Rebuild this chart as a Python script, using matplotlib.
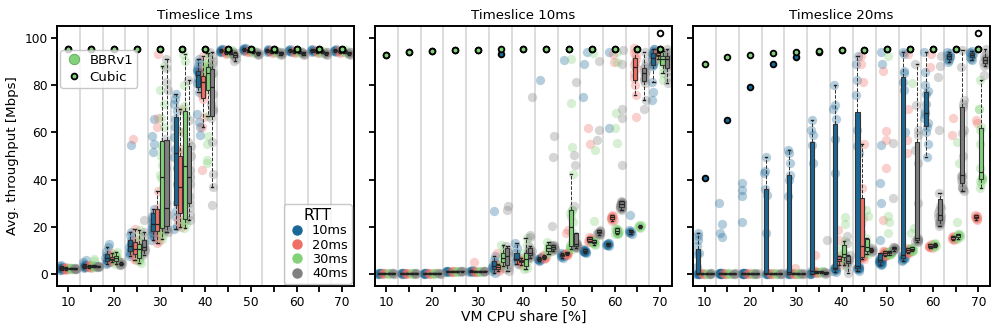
import numpy as np
import matplotlib
matplotlib.use("Agg")
import matplotlib.pyplot as plt
from matplotlib.lines import Line2D

# ---------------- data ----------------
shares = [10, 15, 20, 25, 30, 35, 40, 45, 50, 55, 60, 65, 70]
rtt_labels = ["10ms", "20ms", "30ms", "40ms"]
panel_titles = ["Timeslice 1ms", "Timeslice 10ms", "Timeslice 20ms"]
xtick_labels = ["10", "", "20", "", "30", "", "40", "", "50", "", "60", "", "70"]
yticks = [0, 20, 40, 60, 80, 100]

# --- Timeslice 1ms (BBRv1 throughput per run) ---
ts1_rtt10 = [
    [1.6, 1.9, 2.1, 2.3, 2.4, 2.5, 2.6, 2.8, 3.0, 3.3, 4.0],
    [2.6, 2.9, 3.1, 3.3, 3.4, 3.5, 3.6, 3.8, 4.1, 5.2, 6.1],
    [4.2, 4.8, 5.3, 5.8, 6.2, 6.6, 7.0, 7.6, 8.2, 9.5, 11.5, 12.8],
    [7.5, 8.5, 9.2, 10.0, 10.8, 11.5, 12.0, 12.6, 13.2, 14.5, 16.5, 18.0, 54.5],
    [14.5, 15.5, 16.5, 17.5, 18.0, 18.5, 19.0, 19.5, 20.0, 20.5, 21.5, 22.5, 23.5, 24.5, 25.5, 27.5, 51.5, 55.0, 58.5, 65.5],
    [19.0, 20.5, 24.0, 26.5, 30.0, 38.0, 45.0, 49.5, 53.0, 58.0, 62.0, 65.5, 69.0, 72.0, 74.0, 76.0],
    [58.8, 62.3, 64.5, 67.5, 77.0, 80.0, 80.6, 81.5, 82.5, 84.0, 84.5, 85.0, 85.2, 85.5, 86.0, 86.0, 86.5, 88.0, 89.5, 91.0],
    [93.8, 94.0, 94.3, 94.5, 94.6, 94.8, 95.0, 95.3],
    [94.3, 94.6, 94.8, 95.0, 95.2, 95.4, 95.6],
    [94.0, 94.3, 94.5, 94.7, 94.9, 95.1],
    [94.0, 94.3, 94.5, 94.7, 94.9, 95.1],
    [94.0, 94.3, 94.5, 94.7, 94.9, 95.1],
    [94.0, 94.3, 94.5, 94.7, 94.9, 95.1],
]
ts1_rtt20 = [
    [1.8, 2.0, 2.2, 2.3, 2.4, 2.5, 2.6, 2.7, 2.9],
    [2.8, 3.0, 3.1, 3.2, 3.3, 3.4, 3.5, 3.7, 4.0],
    [5.0, 5.5, 6.0, 6.3, 6.6, 7.0, 7.3, 8.0, 9.0],
    [5.8, 6.5, 7.5, 8.5, 9.5, 10.0, 10.5, 11.5, 12.5, 13.5, 15.0, 19.0, 57.0],
    [13.0, 14.0, 15.5, 17.0, 18.0, 19.0, 19.5, 20.0, 20.5, 21.5, 23.0, 25.0, 26.0, 28.0, 35.0, 62.0, 66.0, 93.0],
    [19.8, 21.0, 23.0, 25.0, 28.0, 33.0, 36.0, 38.0, 42.0, 47.0, 51.0, 53.0, 60.0, 70.0],
    [44.0, 62.0, 66.6, 74.0, 75.5, 77.0, 80.0, 82.0, 83.0, 83.5, 84.0, 86.0, 88.0, 92.0],
    [93.0, 93.5, 93.8, 94.0, 94.3, 94.6],
    [93.8, 94.0, 94.3, 94.5, 94.8],
    [93.6, 93.9, 94.1, 94.3, 94.6],
    [93.6, 93.9, 94.1, 94.3, 94.6],
    [93.6, 93.9, 94.1, 94.3, 94.6],
    [93.6, 93.9, 94.1, 94.3, 94.6],
]
ts1_rtt30 = [
    [2.0, 2.2, 2.3, 2.4, 2.5, 2.6, 2.7, 2.8],
    [3.0, 3.2, 3.3, 3.4, 3.5, 3.6, 3.8, 5.5, 6.5],
    [4.5, 5.0, 5.5, 6.0, 6.5, 7.0, 7.5, 8.0, 8.5, 9.5],
    [4.8, 5.5, 6.0, 7.0, 8.5, 10.0, 11.0, 12.0, 12.5, 14.0, 16.0, 18.8],
    [15.0, 16.5, 17.5, 18.5, 19.0, 19.5, 24.0, 30.0, 37.0, 40.5, 42.0, 46.0, 50.0, 53.0, 54.5, 62.0, 66.0, 72.0, 78.0, 88.0],
    [19.6, 21.0, 22.0, 22.5, 23.5, 30.0, 38.0, 42.0, 45.5, 52.0, 60.0, 67.0, 69.0, 71.0, 80.0, 90.0, 93.0],
    [46.8, 48.3, 55.0, 58.4, 67.0, 78.0, 80.0, 82.0, 83.0, 84.5, 85.0, 86.0, 86.2, 86.5, 87.0, 87.5, 88.0, 88.5, 89.0, 91.0, 93.3],
    [93.0, 93.4, 93.8, 94.0, 94.3, 94.6],
    [93.6, 93.9, 94.1, 94.3, 94.6],
    [93.6, 93.9, 94.1, 94.3, 94.6],
    [93.6, 93.9, 94.1, 94.3, 94.6],
    [93.6, 93.9, 94.1, 94.3, 94.6],
    [93.6, 93.9, 94.1, 94.3, 94.6],
]
ts1_rtt40 = [
    [2.0, 2.1, 2.2, 2.3, 2.4, 2.5, 2.6],
    [3.0, 3.1, 3.2, 3.3, 3.4, 3.5, 3.6],
    [3.8, 4.0, 4.3, 4.5, 4.7, 5.0, 5.2],
    [8.0, 9.0, 9.8, 10.5, 11.0, 11.5, 12.0, 13.0, 16.0, 18.0, 23.0],
    [18.0, 18.5, 19.0, 19.5, 20.0, 22.0, 24.0, 25.0, 26.0, 30.0, 45.0, 52.0, 55.0, 57.0, 78.0, 81.0, 87.0, 91.0],
    [22.8, 25.0, 28.0, 30.0, 33.0, 38.0, 41.0, 44.0, 50.0, 54.0, 56.0, 65.0, 82.0],
    [29.4, 37.0, 42.4, 56.0, 66.0, 69.0, 70.0, 72.0, 76.0, 82.0, 84.0, 85.0, 86.0, 87.0, 89.0, 90.0, 92.0, 94.0],
    [90.0, 91.0, 92.0, 92.5, 93.0, 93.2, 93.5, 94.0],
    [92.8, 93.0, 93.2, 93.5, 93.8, 94.0],
    [92.8, 93.0, 93.2, 93.5, 93.8, 94.0],
    [92.8, 93.0, 93.2, 93.5, 93.8, 94.0],
    [92.8, 93.0, 93.2, 93.5, 93.8, 94.0],
    [92.8, 93.0, 93.2, 93.5, 93.8, 94.0],
]

# --- Timeslice 10ms ---
ts10_rtt10 = [
    [0.0, 0.1, 0.2, 0.3, 0.3, 0.4, 0.5, 0.6],
    [0.0, 0.1, 0.2, 0.3, 0.3, 0.4, 0.5, 0.6],
    [0.0, 0.1, 0.2, 0.3, 0.3, 0.4, 0.5, 0.6],
    [0.8, 1.0, 1.1, 1.2, 1.3, 1.4, 1.5],
    [0.9, 1.0, 1.2, 1.3, 1.4, 1.5, 1.7],
    [0.5, 1.5, 2.0, 2.5, 3.0, 3.5, 4.0, 4.8, 6.0, 7.6, 26.5],
    [4.5, 5.5, 6.0, 6.2, 6.5, 7.0, 9.0, 11.0, 13.2],
    [5.5, 5.8, 6.0, 6.3, 6.5, 6.7, 7.0, 7.4, 82.0],
    [7.0, 7.3, 7.5, 7.8, 8.0, 8.2, 8.5, 8.8, 90.4],
    [9.0, 9.2, 9.3, 9.5, 9.6, 9.7, 9.8, 10.0, 10.2, 10.4, 10.6, 75.0, 89.0, 93.7],
    [12.0, 12.2, 12.3, 12.5, 12.6, 12.8, 13.0, 13.2, 61.7, 94.0],
    [17.0, 17.5, 17.8, 18.0, 18.3, 18.6, 25.0],
    [73.6, 77.0, 81.0, 88.0, 88.5, 89.0, 90.0, 91.0, 92.0, 92.5, 93.0, 93.5, 94.0, 94.5, 95.0, 95.2],
]
ts10_rtt20 = [
    [0.0, 0.2, 0.3, 0.4, 0.5],
    [0.0, 0.2, 0.3, 0.4, 0.5],
    [0.0, 0.2, 0.3, 0.4, 0.5],
    [0.9, 1.0, 1.2, 1.3, 1.4],
    [0.8, 1.0, 1.1, 1.3, 1.5, 5.0],
    [1.5, 2.0, 2.5, 3.0, 3.4, 3.8, 4.5, 9.0],
    [4.0, 4.8, 5.2, 5.5, 5.8, 6.2, 7.0],
    [6.5, 6.8, 7.0, 7.3, 7.6, 8.0],
    [8.0, 8.2, 8.4, 8.5, 8.7, 8.9, 9.1, 9.3, 17.4, 18.8],
    [13.5, 13.8, 14.0, 14.3, 14.6, 14.9, 15.3, 15.6, 55.0, 61.7],
    [22.5, 23.0, 23.3, 23.6, 24.0, 24.3, 24.6, 25.0, 89.7, 93.0],
    [66.6, 75.7, 80.0, 83.0, 85.0, 87.0, 88.3, 89.5, 91.0, 92.5, 93.5, 95.4],
    [91.0, 92.0, 92.5, 93.0, 93.5, 94.0],
]
ts10_rtt30 = [
    [0.1, 0.2, 0.3, 0.4, 0.5],
    [0.1, 0.2, 0.3, 0.4, 0.5],
    [0.1, 0.2, 0.3, 0.4, 0.5],
    [1.0, 1.1, 1.2, 1.3, 1.4],
    [1.0, 1.1, 1.2, 1.3, 1.4],
    [3.5, 4.5, 5.0, 6.0, 7.0, 8.0, 9.0, 10.5, 12.5],
    [2.0, 2.7, 3.5, 5.0, 6.5, 8.3, 9.0, 12.5, 15.3],
    [8.5, 9.5, 10.0, 10.8, 11.5, 12.0, 12.5, 13.5],
    [10.5, 11.0, 11.2, 11.5, 11.8, 12.0, 12.5, 14.0, 18.0, 22.0, 24.0, 26.0, 27.0, 27.2, 42.4, 53.7, 72.5, 91.0],
    [12.5, 12.8, 13.0, 13.2, 13.4, 13.5, 13.7, 13.9, 14.1, 14.4, 22.3, 52.5, 93.3],
    [16.8, 17.0, 17.2, 17.4, 17.5, 17.6, 17.8, 17.9, 18.0, 18.1, 18.3, 18.5, 18.8, 19.0, 19.2, 19.5, 55.6, 61.7, 68.0, 89.7, 94.0],
    [19.5, 19.8, 20.0, 20.2, 20.4, 20.6, 20.8],
    [82.0, 85.0, 87.6, 89.0, 90.0, 91.0, 91.5, 92.0, 92.5, 93.5, 94.5],
]
ts10_rtt40 = [
    [0.1, 0.2, 0.3, 0.4, 0.5],
    [0.1, 0.2, 0.3, 0.4, 0.5],
    [0.1, 0.2, 0.3, 0.4, 0.5],
    [1.0, 1.2, 1.3, 1.4, 1.5],
    [1.0, 1.2, 1.3, 1.4, 1.5],
    [1.5, 2.0, 3.0, 4.5, 6.0, 7.5, 9.0, 10.0, 11.8, 27.2, 28.6],
    [6.8, 7.2, 7.6, 8.0, 8.3, 8.5, 8.8, 9.0, 9.3, 9.7, 10.2, 10.8, 11.8, 15.7, 16.7, 75.0],
    [10.0, 10.3, 10.6, 10.8, 11.0, 11.2, 11.5, 11.8, 12.0, 12.3, 12.5, 20.5, 49.7, 58.4],
    [11.0, 11.3, 11.5, 11.7, 11.8, 12.0, 12.2, 12.5, 12.7, 13.0, 13.2, 13.5, 28.6, 46.0, 50.3, 81.3],
    [16.5, 16.8, 17.0, 17.2, 17.4, 17.6, 17.8, 18.0, 18.3, 18.6, 56.7, 61.0, 90.0],
    [27.2, 27.5, 27.8, 28.0, 28.2, 28.4, 28.7, 29.0, 29.2, 29.4, 29.6, 29.9, 30.1, 30.3, 30.6, 31.0, 46.0, 66.0, 70.0, 89.0, 94.7],
    [70.0, 73.6, 80.6, 82.0, 83.0, 84.5, 85.5, 86.0, 87.0, 88.0, 90.0, 94.0],
    [80.6, 83.4, 86.0, 87.6, 89.0, 90.5, 91.0, 91.5, 92.0, 93.0, 94.0, 95.0],
]

# --- Timeslice 20ms ---
ts20_rtt10 = [
    [0.0, 0.0, 0.0, 0.1, 0.1, 0.2, 0.3, 0.5, 3.0, 8.5, 9.0, 12.0, 14.6, 16.0, 17.4],
    [0.0, 0.0, 0.1, 0.1, 0.2, 0.2, 0.3, 0.3, 0.4, 0.4, 0.5, 0.6, 0.7, 15.7, 17.4, 21.0, 30.0],
    [0.0, 0.0, 0.1, 0.1, 0.2, 0.2, 0.3, 0.3, 0.4, 0.4, 0.5, 0.6, 0.7, 22.0, 33.0, 35.7, 38.5],
    [0.0, 0.0, 0.1, 0.1, 0.2, 0.3, 0.5, 17.4, 33.6, 36.0, 42.7, 43.4, 49.7],
    [0.0, 0.0, 0.1, 0.2, 0.3, 0.5, 1.0, 33.0, 40.0, 42.0, 47.0, 51.0, 52.5],
    [0.0, 0.1, 0.2, 0.3, 0.5, 1.0, 1.5, 47.0, 54.6, 59.0, 61.0, 65.0],
    [1.0, 1.5, 1.8, 2.0, 2.2, 2.4, 2.6, 3.0, 42.7, 57.0, 65.6, 70.0, 71.5, 80.0],
    [1.5, 2.0, 2.3, 2.5, 2.7, 2.8, 3.0, 3.5, 51.0, 54.0, 61.0, 75.7, 82.0, 89.0, 92.0],
    [4.0, 4.3, 4.5, 4.7, 4.9, 5.0, 5.2, 5.3, 5.5, 5.6, 5.7, 5.9, 6.0, 6.2, 6.3, 6.5, 6.7, 7.0, 14.6, 30.0, 38.5, 54.6, 89.0, 94.0],
    [5.5, 6.0, 6.5, 6.8, 7.0, 7.2, 7.5, 8.0, 60.0, 78.0, 81.3, 85.0, 86.0, 93.0, 94.0],
    [49.7, 55.0, 60.0, 62.0, 64.0, 66.0, 67.6, 69.0, 72.0, 76.0, 77.5, 80.0, 85.5, 94.0],
    [89.5, 90.4, 91.0, 91.8, 92.3, 92.8, 93.3, 94.0],
    [90.5, 91.0, 91.8, 92.5, 93.0, 93.5, 94.0, 94.5],
]
ts20_rtt20 = [
    [0.0, 0.1, 0.2, 0.3, 0.4],
    [0.0, 0.1, 0.2, 0.3, 0.4],
    [0.0, 0.1, 0.2, 0.3, 0.4],
    [0.0, 0.1, 0.2, 0.3, 0.4],
    [0.0, 0.1, 0.2, 0.4, 0.6, 2.7],
    [0.3, 0.5, 0.8, 1.0, 1.2, 1.5, 8.0],
    [4.0, 5.0, 5.5, 6.0, 6.5, 7.0, 7.5, 14.6, 18.8],
    [6.5, 7.0, 7.2, 7.3, 7.4, 7.5, 7.6, 7.8, 8.5, 12.0, 18.0, 21.0, 23.7, 28.0, 36.4, 55.0, 81.0, 89.0, 92.0],
    [7.5, 7.7, 7.9, 8.0, 8.2, 8.3, 8.5, 8.6, 8.7, 8.8, 8.9, 9.0, 9.2, 9.4, 9.6, 9.8, 23.0, 44.8, 56.7, 60.5, 86.0],
    [8.8, 9.0, 9.2, 9.4, 9.5, 9.7, 9.8, 10.0, 10.2, 10.4, 10.6, 10.8, 11.0, 51.0, 56.7, 70.0, 93.0],
    [11.0, 11.3, 11.6, 11.8, 12.0, 12.3, 12.6, 87.6, 93.0],
    [14.5, 14.8, 15.0, 15.3, 15.6, 15.9, 16.2, 59.0, 66.0],
    [23.0, 23.4, 23.7, 24.0, 24.3, 24.6, 25.0, 64.0, 65.0],
]
ts20_rtt30 = [
    [0.0, 0.1, 0.2, 0.3, 0.4],
    [0.0, 0.1, 0.2, 0.3, 0.4],
    [0.0, 0.1, 0.2, 0.3, 0.4],
    [0.0, 0.1, 0.2, 0.3, 0.4],
    [0.0, 0.1, 0.2, 0.3, 0.5],
    [0.5, 0.8, 1.0, 1.2, 1.5],
    [4.0, 6.0, 7.0, 7.5, 8.0, 8.5, 9.0, 11.0, 14.0, 21.0, 24.0],
    [8.5, 9.0, 9.5, 10.0, 11.0, 12.0, 13.5, 15.3, 24.4, 27.0],
    [8.2, 8.4, 8.6, 8.7, 8.8, 8.9, 9.0, 9.1, 9.2, 9.4, 9.6, 9.8, 10.0, 17.4, 22.0, 24.4, 92.0],
    [9.6, 9.8, 10.0, 10.2, 10.4, 10.5, 10.7, 10.9, 11.1, 11.3, 17.4, 19.5, 80.6],
    [11.6, 11.9, 12.1, 12.4, 12.6, 12.9, 13.2],
    [15.0, 15.3, 15.6, 15.8, 16.0, 16.2, 16.4, 16.6, 16.8, 17.0, 22.0, 47.0, 56.0],
    [36.4, 38.0, 39.5, 40.0, 40.3, 40.6, 41.0, 45.0, 55.0, 61.0, 62.0, 69.7, 70.0, 82.0],
]
ts20_rtt40 = [
    [0.0, 0.1, 0.2, 0.3, 0.4],
    [0.0, 0.1, 0.2, 0.3, 0.4],
    [0.0, 0.1, 0.2, 0.3, 0.4],
    [0.0, 0.1, 0.2, 0.3, 0.4],
    [0.0, 0.1, 0.2, 0.3, 0.5],
    [0.2, 0.4, 0.6, 0.8, 1.0, 14.6],
    [0.5, 3.0, 4.5, 5.0, 5.5, 6.0, 6.5, 8.0, 13.0, 16.0],
    [9.5, 10.0, 10.4, 10.8, 11.2],
    [10.0, 10.2, 10.5, 10.7, 10.9, 11.1, 11.3, 11.6, 32.0, 55.6],
    [13.8, 14.0, 14.2, 14.4, 14.6, 14.8, 15.0, 15.3, 30.0, 47.0, 52.5, 59.0, 61.0, 71.5, 89.0],
    [20.5, 21.0, 21.5, 22.0, 22.5, 23.0, 23.5, 24.0, 24.4, 25.0, 26.0, 27.0, 28.0, 29.0, 34.5, 61.0, 83.4, 88.0, 92.0],
    [35.0, 36.0, 36.5, 37.0, 38.5, 40.0, 41.0, 41.3, 42.0, 50.0, 59.6, 61.0, 70.5, 72.0, 73.6, 87.6, 94.7],
    [84.0, 88.0, 89.0, 89.5, 90.0, 90.4, 90.8, 91.5, 92.0, 93.0, 95.0],
]

# --- Cubic (mean throughput per share) ---
cubic_ts1 = [95.0, 95.0, 95.0, 95.0, 95.0, 95.0, 95.0, 95.0, 95.0, 95.0, 95.0, 95.0, 95.0]
cubic_ts1_rtt10 = [95.0, 95.0, 95.0, 95.0, 95.0, 95.0, 95.0, 95.0, 95.0, 95.0, 95.0, 95.0, 95.0]
cubic_ts10 = [92.8, 93.8, 94.4, 94.7, 94.9, 95.0, 95.1, 95.1, 95.1, 95.1, 95.1, 95.1, 95.1]
cubic_ts10_rtt10 = [92.8, 93.8, 94.4, 94.7, 94.9, 93.0, 95.1, 95.1, 95.1, 95.1, 95.1, 95.1, 95.1]
cubic_ts20 = [89.0, 91.6, 92.7, 93.5, 94.0, 94.2, 94.6, 94.6, 95.0, 95.0, 95.0, 95.0, 95.0]
cubic_ts20_rtt10 = [40.6, 65.0, 79.0, 89.0, 91.8, 94.0, 94.6, 94.6, 95.0, 95.0, 95.0, 95.0, 95.0]
cubic_extra_share = [70]
cubic_extra_ts1 = []
cubic_extra_ts10 = [102.0]
cubic_extra_ts20 = [102.0]

# ---------------- style ----------------
colors = ["#1a6896", "#ee6f64", "#83d27a", "#808080"]
box_edge = "#333333"
offsets = [-1.5, -0.5, 0.5, 1.5]

plt.rcParams.update({
    "font.family": ["DejaVu Sans"],
    "font.size": 9.6,
    "axes.linewidth": 1.4,
    "xtick.major.width": 1.3,
    "ytick.major.width": 1.3,
    "xtick.major.size": 4.5,
    "ytick.major.size": 4.5,
    "xtick.major.pad": 2.5,
    "ytick.major.pad": 2.0,
    "xtick.labelsize": 8.8,
    "ytick.labelsize": 8.8,
})

fig = plt.figure(figsize=(9.98, 3.33), dpi=100)
lefts = [0.0571, 0.3758, 0.6946]
axes = [fig.add_axes([l, 0.1411, 0.2972, 0.7818]) for l in lefts]

panels = [
    (ts1_rtt10, ts1_rtt20, ts1_rtt30, ts1_rtt40),
    (ts10_rtt10, ts10_rtt20, ts10_rtt30, ts10_rtt40),
    (ts20_rtt10, ts20_rtt20, ts20_rtt30, ts20_rtt40),
]
cubics = [(cubic_ts1, cubic_ts1_rtt10, cubic_extra_ts1),
          (cubic_ts10, cubic_ts10_rtt10, cubic_extra_ts10),
          (cubic_ts20, cubic_ts20_rtt10, cubic_extra_ts20)]

rng = np.random.default_rng(3)

for pi, ax in enumerate(axes):
    # vertical separators
    for s in shares[:-1]:
        ax.axvline(s + 2.5, color="#dcdcdc", lw=1.4, zorder=0)
    for ri, series in enumerate(panels[pi]):
        pos = [s + offsets[ri] for s in shares]
        # strip points
        for p, vals in zip(pos, series):
            jit = rng.uniform(-0.4, 0.4, len(vals))
            ax.scatter(np.full(len(vals), p) + jit, vals, s=45, color=colors[ri],
                       alpha=0.32, linewidths=0, zorder=1)
        ax.boxplot(series, positions=pos, widths=0.9, patch_artist=True,
                   showfliers=False, whis=1.5, manage_ticks=False,
                   boxprops=dict(facecolor=colors[ri], edgecolor=box_edge, linewidth=0.8),
                   medianprops=dict(color="#222222", linewidth=0.9),
                   whiskerprops=dict(color="#333333", linewidth=0.7, linestyle="--"),
                   capprops=dict(color="#222222", linewidth=1.0),
                   capwidths=0.5, zorder=2)
    cub, cub10, extra = cubics[pi]
    ax.scatter(shares, cub10, s=17, facecolor=colors[0], edgecolor="black",
               linewidths=1.3, zorder=3)
    ax.scatter(shares, cub, s=17, facecolor=colors[2], edgecolor="black",
               linewidths=1.3, zorder=4)
    if extra:
        ax.scatter(cubic_extra_share, extra, s=17, facecolor="white",
                   edgecolor="black", linewidths=1.3, zorder=4)

    ax.set_xlim(7.5, 72.5)
    ax.set_ylim(-5, 105)
    ax.set_xticks(shares)
    ax.set_xticklabels(xtick_labels)
    ax.set_yticks(yticks)
    if pi > 0:
        ax.set_yticklabels([])
    ax.set_title(panel_titles[pi], fontsize=9.6, pad=5)

axes[0].set_ylabel("Avg. throughput [Mbps]", fontsize=9.6, labelpad=4)
axes[1].set_xlabel("VM CPU share [%]", fontsize=10, labelpad=1)

h1 = [Line2D([], [], marker="o", ls="", markersize=7.5, markerfacecolor=colors[2],
             markeredgecolor="#5da556", markeredgewidth=0.6),
      Line2D([], [], marker="o", ls="", markersize=4.2, markerfacecolor=colors[2],
             markeredgecolor="black", markeredgewidth=1.3)]
leg1 = axes[0].legend(h1, ["BBRv1", "Cubic"], loc="upper left",
                      bbox_to_anchor=(0.0, 0.92), fontsize=9.6, borderaxespad=0.25,
                      handletextpad=0.5, labelspacing=0.3, borderpad=0.3,
                      handlelength=1.4, edgecolor="#bbbbbb")
axes[0].add_artist(leg1)
h2 = [Line2D([], [], marker="o", ls="", markersize=6.5, color=c) for c in colors]
axes[0].legend(h2, rtt_labels, title="RTT", loc="lower right", fontsize=9.3,
               title_fontsize=11, borderaxespad=0.15, handletextpad=0.5,
               labelspacing=0.1, borderpad=0.3, handlelength=1.4,
               edgecolor="#bbbbbb")

fig.savefig("out.png", dpi=100)
